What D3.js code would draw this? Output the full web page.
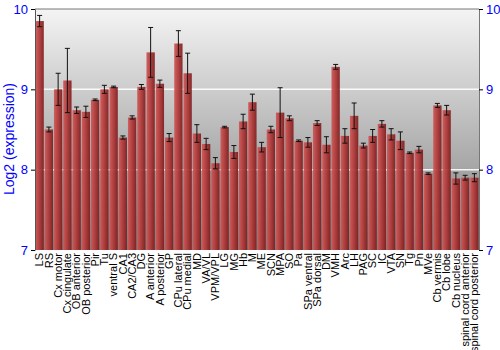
<!DOCTYPE html>
<html>
<head>
<meta charset="utf-8">
<script src="https://cdn.jsdelivr.net/npm/d3@7"></script>
<style>
  body { margin: 0; background: #fff; }
  text { font-family: "Liberation Sans", Arial, sans-serif; }
</style>
</head>
<body>
<div id="chart"></div>
<script>
// regions, mean log2 expression and error (half-length of error bar)
const regions = ["LS", "RS", "Cx motor", "Cx cingulate", "OB anterior", "OB posterior", "Pir", "Tu",
  "ventral S", "CA1", "CA2/CA3", "DG", "A anterior", "A posterior", "GP", "CPu lateral", "CPu medial",
  "MD", "VA/VL", "VPM/VPL", "LG", "MG", "Hb", "M", "ME", "SCN", "MPA", "SO", "Pa", "SPa ventral",
  "SPa dorsal", "DM", "VMH", "Arc", "LH", "PAG", "SC", "IC", "VTA", "SN", "Tg", "Pn", "MVe",
  "Cb vermis", "Cb lobe", "Cb nucleus", "spinal cord anterior", "spinal cord posterior"];
const means = [9.85, 8.50, 9.00, 9.11, 8.74, 8.72, 8.87, 9.00,
  9.03, 8.40, 8.65, 9.03, 9.46, 9.07, 8.40, 9.57, 9.20,
  8.45, 8.32, 8.08, 8.53, 8.22, 8.60, 8.84, 8.28, 8.50, 8.71, 8.64, 8.36, 8.34,
  8.58, 8.31, 9.28, 8.42, 8.67, 8.30, 8.42, 8.57, 8.44, 8.36, 8.21, 8.25, 7.95,
  8.80, 8.74, 7.89, 7.90, 7.90];
const errors = [0.07, 0.03, 0.2, 0.4, 0.04, 0.07, 0.01, 0.05,
  0.01, 0.02, 0.02, 0.03, 0.31, 0.045, 0.05, 0.16, 0.25,
  0.11, 0.07, 0.07, 0.01, 0.08, 0.09, 0.1, 0.06, 0.04, 0.31, 0.03, 0.01, 0.06,
  0.03, 0.1, 0.03, 0.09, 0.16, 0.03, 0.08, 0.04, 0.07, 0.11, 0.01, 0.04, 0.01,
  0.025, 0.06, 0.07, 0.03, 0.05];
const yTicks = [7, 8, 9, 10];

const width = 500, height = 350;
const margin = { top: 9, right: 21, bottom: 100, left: 35 };
const plotW = width - margin.left - margin.right;
const plotH = height - margin.top - margin.bottom;

const svg = d3.select("#chart").append("svg")
  .attr("width", width)
  .attr("height", height);

// gradients for background and bars
const defs = svg.append("defs");
const bg = defs.append("linearGradient").attr("id", "bg")
  .attr("x1", 0).attr("y1", 0).attr("x2", 0).attr("y2", 1);
bg.append("stop").attr("offset", "0%").attr("stop-color", "#f4f4f4");
bg.append("stop").attr("offset", "100%").attr("stop-color", "#7e7e7e");

const barGrad = defs.append("linearGradient").attr("id", "barGrad")
  .attr("x1", 0).attr("y1", 0).attr("x2", 1).attr("y2", 0);
barGrad.append("stop").attr("offset", "0%").attr("stop-color", "#d05858");
barGrad.append("stop").attr("offset", "45%").attr("stop-color", "#b33a3a");
barGrad.append("stop").attr("offset", "100%").attr("stop-color", "#7e1c1c");

const g = svg.append("g")
  .attr("transform", `translate(${margin.left},${margin.top})`);

const x = d3.scaleBand()
  .domain(regions)
  .range([0, plotW])
  .paddingInner(0.1)
  .paddingOuter(0.05);

const y = d3.scaleLinear()
  .domain([7, 10])
  .range([plotH, 0]);

g.append("rect")
  .attr("width", plotW)
  .attr("height", plotH)
  .attr("fill", "url(#bg)");

// white grid lines
g.selectAll(".grid")
  .data([8, 9])
  .join("line")
  .attr("class", "grid")
  .attr("x1", 0).attr("x2", plotW)
  .attr("y1", d => y(d)).attr("y2", d => y(d))
  .attr("stroke", "#fff")
  .attr("stroke-width", 1.5)
  .attr("opacity", 0.9);

const data = regions.map((r, i) => ({ region: r, mean: means[i], err: errors[i] }));

g.selectAll(".bar")
  .data(data)
  .join("rect")
  .attr("class", "bar")
  .attr("x", d => x(d.region))
  .attr("y", d => y(d.mean))
  .attr("width", x.bandwidth())
  .attr("height", d => plotH - y(d.mean))
  .attr("fill", "url(#barGrad)")
  .attr("opacity", 0.93);

// error bars
const eb = g.selectAll(".err")
  .data(data)
  .join("g")
  .attr("class", "err")
  .attr("stroke", "#111")
  .attr("stroke-width", 1);

eb.append("line")
  .attr("x1", d => x(d.region) + x.bandwidth() / 2)
  .attr("x2", d => x(d.region) + x.bandwidth() / 2)
  .attr("y1", d => y(d.mean + d.err))
  .attr("y2", d => y(d.mean - d.err));
eb.append("line")
  .attr("x1", d => x(d.region) + x.bandwidth() / 2 - 2.5)
  .attr("x2", d => x(d.region) + x.bandwidth() / 2 + 2.5)
  .attr("y1", d => y(d.mean + d.err))
  .attr("y2", d => y(d.mean + d.err));
eb.append("line")
  .attr("x1", d => x(d.region) + x.bandwidth() / 2 - 2.5)
  .attr("x2", d => x(d.region) + x.bandwidth() / 2 + 2.5)
  .attr("y1", d => y(d.mean - d.err))
  .attr("y2", d => y(d.mean - d.err));

// top border
g.append("line")
  .attr("x1", 0).attr("x2", plotW)
  .attr("y1", 0).attr("y2", 0)
  .attr("stroke", "#777");

// left axis
const left = g.append("g")
  .call(d3.axisLeft(y).tickValues(yTicks).tickFormat(d3.format("d")).tickSize(4).tickSizeOuter(0));
left.select(".domain").attr("stroke", "#555");
left.selectAll("text").attr("fill", "#0000ff").style("font-size", "13px");

// right axis
const right = g.append("g")
  .attr("transform", `translate(${plotW},0)`)
  .call(d3.axisRight(y).tickValues(yTicks).tickFormat(d3.format("d")).tickSize(4).tickSizeOuter(0));
right.select(".domain").attr("stroke", "#777");
right.selectAll("text").attr("fill", "#0000ff").style("font-size", "13px");

// x labels, vertical
const bottom = g.append("g")
  .attr("transform", `translate(0,${plotH})`)
  .call(d3.axisBottom(x).tickSize(0));
bottom.select(".domain").remove();
bottom.selectAll("text")
  .attr("fill", "#000")
  .style("font-size", "11px")
  .style("text-anchor", "end")
  .attr("transform", "rotate(-90)")
  .attr("x", -3)
  .attr("y", 0)
  .attr("dy", "0.35em");

// y-axis title
svg.append("text")
  .attr("transform", `translate(14,139) rotate(-90)`)
  .attr("text-anchor", "middle")
  .attr("fill", "#0000ff")
  .style("font-size", "14px")
  .text("Log2 (expression)");
</script>
</body>
</html>
